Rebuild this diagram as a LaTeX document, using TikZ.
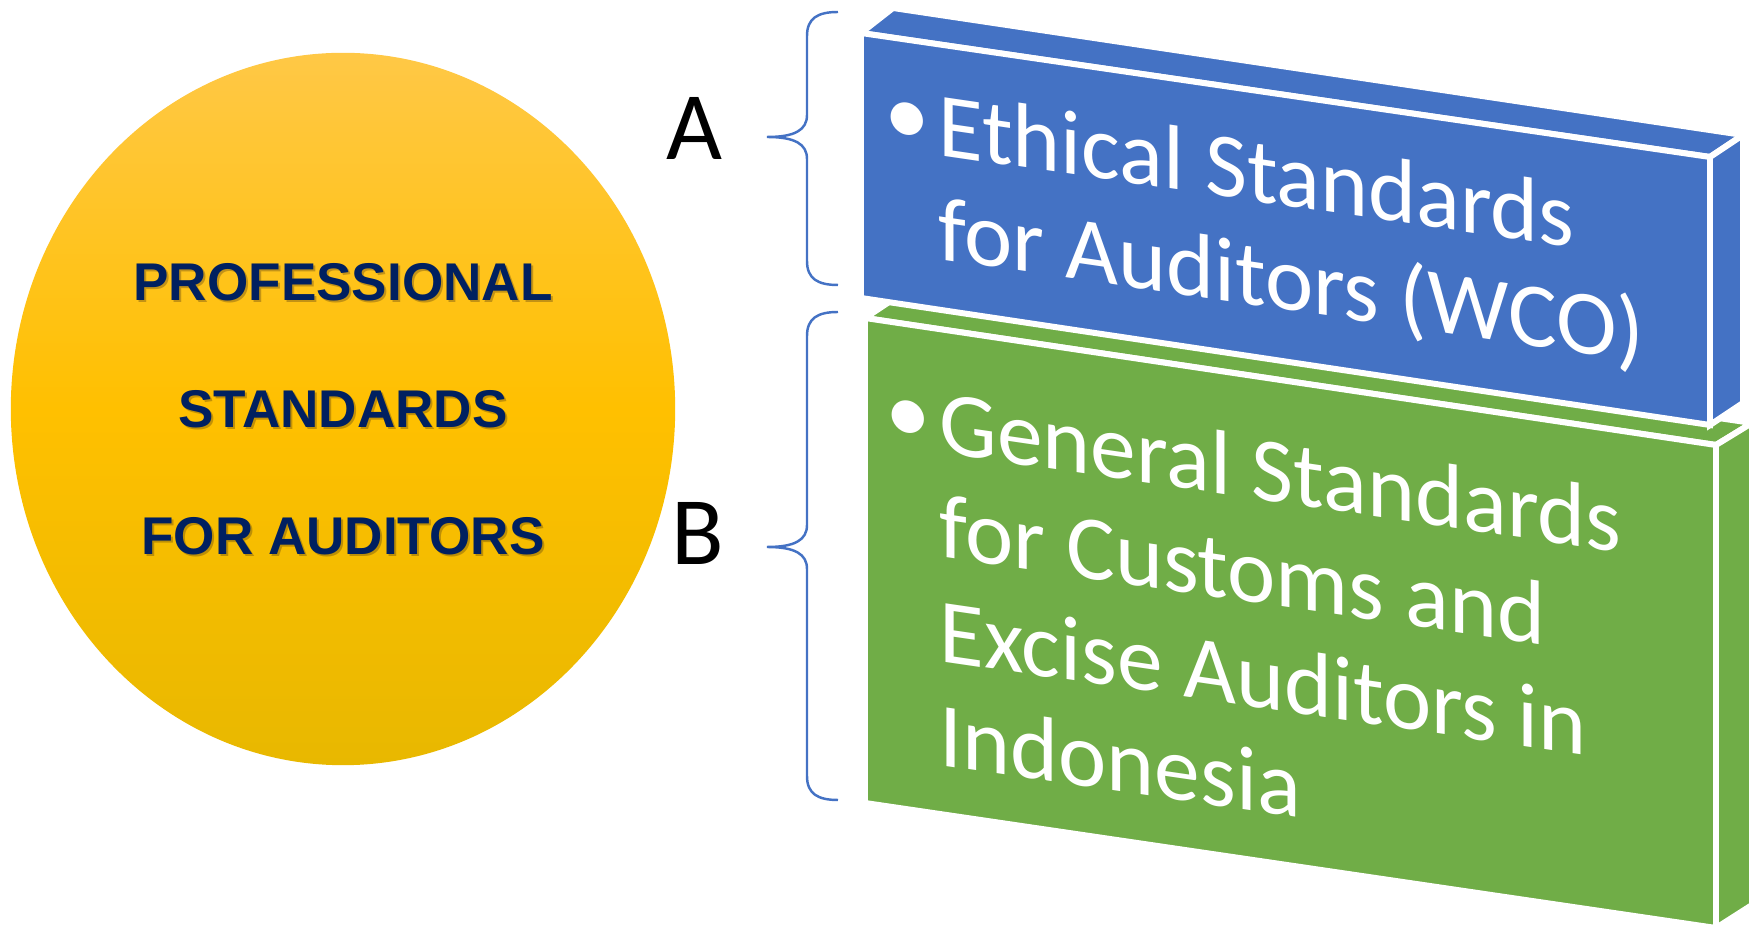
\documentclass[tikz,border=0pt]{standalone}
\usepackage{fontspec}
\setmainfont{Carlito}
\newfontfamily\headfont{Liberation Sans}
\usetikzlibrary{shapes.geometric}

\definecolor{slabblue}{HTML}{4472C4}
\definecolor{slabgreen}{HTML}{70AD47}
\definecolor{navy}{HTML}{002060}
\definecolor{discTop}{HTML}{FFC846}
\definecolor{discMid}{HTML}{FFC000}
\definecolor{discBot}{HTML}{E8B800}

\newcommand{\bul}{\llap{\raisebox{1.5pt}{\textbullet}\hspace{0.1em}}}

\begin{document}
\begin{tikzpicture}[x=0.01cm, y=-0.01cm,
    face/.style={draw=white, line width=1.7pt, line join=miter},
    slabtext/.style={text=white, inner sep=0pt, align=left, anchor=base west,
        font=\fontsize{26}{29.6}\selectfont, yslant=-0.146},
    disc/.style={ellipse, minimum width=6.64cm, minimum height=7.12cm, inner sep=0pt,
        top color=discTop, bottom color=discBot, middle color=discMid},
    coretext/.style={font=\headfont\bfseries\fontsize{15.1}{36.1}\selectfont,
        text=navy, align=center, inner sep=0pt},
    letter/.style={font=\fontsize{27.5}{30}\selectfont, inner sep=0pt},
    curly/.style={draw=slabblue, line width=0.7pt}]
    \useasboundingbox (0,0) rectangle (1750,928);

    % the circle on the left
    \node[disc] (core) at (343,409) {};
    \node[coretext, text=black!70!brown, opacity=.3] (core shadow) at ([shift={(2,2)}]core.center)
        {PROFESSIONAL\\STANDARDS\\FOR AUDITORS};
    \node[coretext] (core label) at (core.center) {PROFESSIONAL\\STANDARDS\\FOR AUDITORS};

    % green slab (behind)
    \coordinate (g1) at (865,318);
    \coordinate (g2) at (1716,445);
    \coordinate (g3) at (1716,928);
    \coordinate (g4) at (865,803);
    \coordinate (g5) at (898,296);
    \coordinate (g6) at (1752,423);
    \coordinate (g7) at (1752,905);
    \filldraw[face, fill=slabgreen] (g1) -- (g5) -- (g6) -- (g2) -- cycle;
    \filldraw[face, fill=slabgreen] (g2) -- (g6) -- (g7) -- (g3) -- cycle;
    \filldraw[face, fill=slabgreen] (g1) -- (g2) -- (g3) -- (g4) -- cycle;

    % blue slab (front)
    \coordinate (b1) at (861,33);
    \coordinate (b2) at (1710,157);
    \coordinate (b3) at (1710,425);
    \coordinate (b4) at (861,298);
    \coordinate (b5) at (893,8);
    \coordinate (b6) at (1743,135);
    \coordinate (b7) at (1743,403);
    \filldraw[face, fill=slabblue] (b1) -- (b5) -- (b6) -- (b2) -- cycle;
    \filldraw[face, fill=slabblue] (b2) -- (b6) -- (b7) -- (b3) -- cycle;
    \filldraw[face, fill=slabblue] (b1) -- (b2) -- (b3) -- (b4) -- cycle;

    % base west sits on the last line
    \node[slabtext] (ethics) at (938,259)
        {\bul Ethical Standards\\for Auditors (WCO)};
    \node[slabtext] (general) at (939,765)
        {\bul General Standards\\for Customs and\\Excise Auditors in\\Indonesia};

    % letters and braces
    \node[letter] (tagA) at (694,128) {A};
    \node[letter] (tagB) at (698,533) {B};

    \draw[curly] (838,12) .. controls (818,12) and (807,18) .. (807,36) -- (807,115)
        .. controls (807,130) and (795,137) .. (767,137)
        .. controls (795,137) and (807,144) .. (807,159) -- (807,261)
        .. controls (807,279) and (818,285) .. (838,285);
    \draw[curly] (838,312) .. controls (818,312) and (807,318) .. (807,336) -- (807,525)
        .. controls (807,540) and (795,547) .. (767,547)
        .. controls (795,547) and (807,554) .. (807,569) -- (807,776)
        .. controls (807,794) and (818,800) .. (838,800);
\end{tikzpicture}
\end{document}
